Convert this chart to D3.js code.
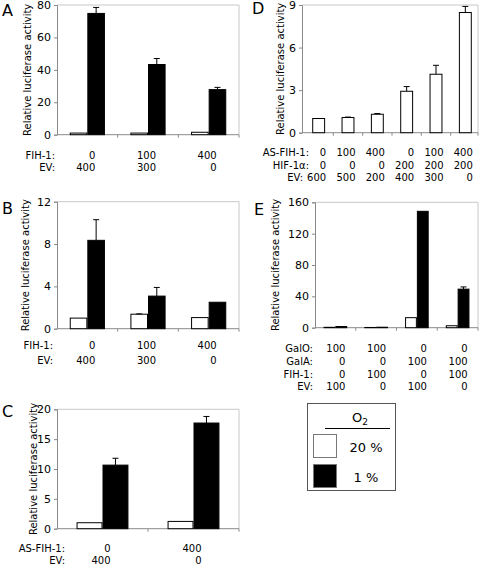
<!DOCTYPE html>
<html><head><meta charset="utf-8">
<script src="https://cdn.jsdelivr.net/npm/d3@7"></script>
<style>body{margin:0;background:#fff}svg{display:block}text{font-family:"DejaVu Sans",sans-serif;fill:#000}</style>
</head><body><svg id="c" width="483" height="566"></svg>
<script>
// ---- data ----
const aCats = ["g1","g2","g3"];
const aNorm = [1, 1, 1.5];
const aHyp = [74.8, 43.3, 27.8];
const aHypErr = [78.5, 47, 29.2];
const aTicks = [0,20,40,60,80];
const aRowLabels = ["FIH-1:","EV:"];
const aRows = [["0","100","400"],["400","300","0"]];

const bCats = ["g1","g2","g3"];
const bNorm = [1.0, 1.37, 1.05];
const bNormErr = [null, 1.4, null];
const bHyp = [8.35, 3.08, 2.5];
const bHypErr = [10.3, 3.9, null];
const bTicks = [0,4,8,12];
const bRowLabels = ["FIH-1:","EV:"];
const bRows = [["0","100","400"],["400","300","0"]];

const cCats = ["g1","g2"];
const cNorm = [1.0, 1.22];
const cHyp = [10.65, 17.7];
const cHypErr = [11.8, 18.8];
const cTicks = [0,5,10,15,20];
const cRowLabels = ["AS-FIH-1:","EV:"];
const cRows = [["0","400"],["400","0"]];

const dCats = ["g1","g2","g3","g4","g5","g6"];
const dVals = [1.0, 1.07, 1.3, 2.92, 4.12, 8.47];
const dErr = [null, 1.1, 1.35, 3.25, 4.75, 8.9];
const dTicks = [0,3,6,9];
const dRowLabels = ["AS-FIH-1:","HIF-1\u03b1:","EV:"];
const dRows = [["0","100","400","0","100","400"],["0","0","0","200","200","200"],["600","500","200","400","300","0"]];

const eCats = ["g1","g2","g3","g4"];
const eNorm = [0.5, 0.3, 12.8, 2.5];
const eHyp = [1.5, 0.6, 148.5, 49.2];
const eHypErr = [null, null, null, 52];
const eTicks = [0,40,80,120,160];
const eRowLabels = ["GalO:","GalA:","FIH-1:","EV:"];
const eRows = [["100","100","0","0"],["0","0","100","100"],["0","100","0","100"],["100","0","100","0"]];

const legendTitle = "O";
const legendSub = "2";
const legendLabels = ["20 %","1 %"];

// ---- drawing ----
const svg = d3.select("#c");
const axisCol = "#8a8a8a", frameCol = "#c8c8c8";

function panel(o){
  const g = svg.append("g");
  const y = d3.scaleLinear().domain([0, o.ticks[o.ticks.length-1]]).range([o.yb, o.yt]);
  const x = d3.scaleBand().domain(o.cats).range([o.bx0 ?? o.x0, o.bx1 ?? o.x1]);
  g.append("path").attr("d",`M${o.x0},${o.yt}H${o.x1}V${o.yb}`).attr("fill","none").attr("stroke",frameCol).attr("stroke-width",1);
  const ya = d3.axisLeft(y).tickValues(o.ticks).tickSize(3).tickPadding(3).tickFormat(d3.format("d"));
  const yg = g.append("g").attr("transform",`translate(${o.x0},0)`).call(ya);
  yg.select(".domain").attr("stroke",axisCol);
  yg.selectAll(".tick line").attr("stroke",axisCol);
  yg.selectAll("text").style("font-family","DejaVu Sans").style("font-size",o.tickFs+"px").attr("fill","#000");
  g.append("line").attr("x1",o.x0).attr("x2",o.x1).attr("y1",o.yb).attr("y2",o.yb).attr("stroke",axisCol);
  o.cats.forEach((c,i)=>{ if(i>0){ const xx = x(c); g.append("line").attr("x1",xx).attr("x2",xx).attr("y1",o.yb).attr("y2",o.yb+3).attr("stroke",axisCol);} });
  g.append("line").attr("x1",o.x1).attr("x2",o.x1).attr("y1",o.yb).attr("y2",o.yb+3).attr("stroke",axisCol);
  const bw = x.bandwidth()*o.barFrac;
  o.series.forEach((s,si)=>{
    const nS = o.series.length;
    o.cats.forEach((c,i)=>{
      const cx = x(c)+x.bandwidth()/2;
      const bx = cx - nS*bw/2 + si*bw;
      const v = s.vals[i];
      g.append("rect").attr("x",bx+0.5).attr("y",y(v)).attr("width",bw-1).attr("height",Math.max(0,y(0)-y(v)))
        .attr("fill",s.fill).attr("stroke","#000").attr("stroke-width",1);
      const e = s.err ? s.err[i] : null;
      if(e!=null){
        const ex = bx+bw/2;
        g.append("line").attr("x1",ex).attr("x2",ex).attr("y1",y(v)).attr("y2",y(e)).attr("stroke","#000");
        g.append("line").attr("x1",ex-3).attr("x2",ex+3).attr("y1",y(e)).attr("y2",y(e)).attr("stroke","#000");
      }
    });
  });
  g.append("text").attr("transform",`translate(${o.ylx},${(o.yt+o.yb)/2}) rotate(-90)`)
    .attr("text-anchor","middle").attr("dominant-baseline","central").style("font-size","10px").text("Relative luciferase activity");
  g.append("text").attr("x",o.lx).attr("y",o.ly).style("font-size","16px").text(o.letter);
  o.rowLabels.forEach((lab,ri)=>{
    const ry = o.rowY[ri];
    const lr = Array.isArray(o.labRight) ? o.labRight[ri] : o.labRight;
    g.append("text").attr("x",lr).attr("y",ry).attr("text-anchor","end").attr("dominant-baseline","central").style("font-size","10px").text(lab);
    o.rows[ri].forEach((t,ci)=>{
      const cx = x(o.cats[ci])+x.bandwidth()/2 + o.valOff;
      g.append("text").attr("x",cx).attr("y",ry).attr("text-anchor","end").attr("dominant-baseline","central").style("font-size","10px").text(t);
    });
  });
}

panel({cats:aCats, ticks:aTicks, x0:57, x1:239, yt:5, yb:134.7, barFrac:0.29, tickFs:11,
  series:[{vals:aNorm, fill:"#fff"},{vals:aHyp, err:aHypErr, fill:"#000"}],
  ylx:27, letter:"A", lx:2, ly:16, rowLabels:aRowLabels, rows:aRows, rowY:[155,167], labRight:55, valOff:8});
panel({cats:bCats, ticks:bTicks, x0:57, x1:239, yt:201.7, yb:328.7, barFrac:0.29, tickFs:11,
  series:[{vals:bNorm, err:bNormErr, fill:"#fff"},{vals:bHyp, err:bHypErr, fill:"#000"}],
  ylx:25, letter:"B", lx:2, ly:214, rowLabels:bRowLabels, rows:bRows, rowY:[345.7,360], labRight:53, valOff:8});
panel({cats:cCats, ticks:cTicks, x0:57, x1:239, yt:409.3, yb:528.7, barFrac:0.285, tickFs:11,
  series:[{vals:cNorm, fill:"#fff"},{vals:cHyp, err:cHypErr, fill:"#000"}],
  ylx:33, letter:"C", lx:2, ly:417, rowLabels:cRowLabels, rows:cRows, rowY:[548.5,560.5], labRight:65, valOff:8});
panel({cats:dCats, ticks:dTicks, x0:302, x1:478, bx0:304, bx1:480, yt:5, yb:132.7, barFrac:0.44, tickFs:11,
  series:[{vals:dVals, err:dErr, fill:"#fff"}],
  ylx:280, letter:"D", lx:252, ly:14, rowLabels:dRowLabels, rows:dRows, rowY:[152.7,165.7,177.7], labRight:[309,309,303], valOff:7.5});
panel({cats:eCats, ticks:eTicks, x0:315, x1:478, yt:202.3, yb:327.7, barFrac:0.29, tickFs:11,
  series:[{vals:eNorm, fill:"#fff"},{vals:eHyp, err:eHypErr, fill:"#000"}],
  ylx:275, letter:"E", lx:254, ly:215, rowLabels:eRowLabels, rows:eRows, rowY:[348.3,361.7,374,386], labRight:313, valOff:10});

const lg = svg.append("g");
lg.append("rect").attr("x",307.5).attr("y",403.5).attr("width",88).attr("height",87).attr("fill","#fff").attr("stroke","#555");
const t = lg.append("text").attr("x",360).attr("y",422).attr("text-anchor","middle").style("font-size","13px");
t.append("tspan").text(legendTitle);
t.append("tspan").attr("dy",3).style("font-size","9px").text(legendSub);
lg.append("line").attr("x1",325).attr("x2",390).attr("y1",428.5).attr("y2",428.5).attr("stroke","#000");
const swFill = ["#fff","#000"];
legendLabels.forEach((l,i)=>{
  const yy = 434 + i*30;
  lg.append("rect").attr("x",313.5).attr("y",yy+0.5).attr("width",23).attr("height",23).attr("fill",swFill[i]).attr("stroke","#777");
  lg.append("text").attr("x",366).attr("y",yy+18).attr("text-anchor","middle").style("font-size","13px").text(l);
});
</script></body></html>
